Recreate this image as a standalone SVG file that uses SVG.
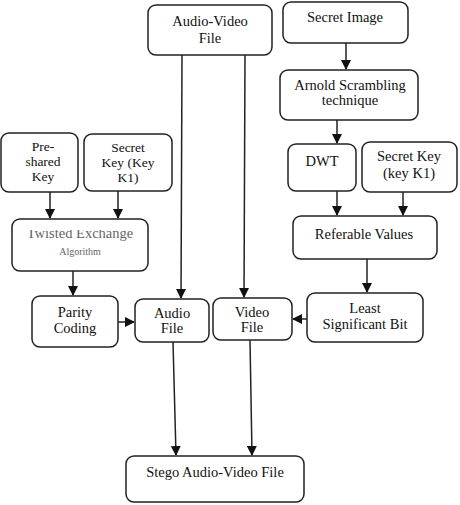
<svg xmlns="http://www.w3.org/2000/svg" width="460" height="505" viewBox="0 0 460 505">
<style>
.box{fill:#fff;stroke:#222;stroke-width:1.5}
.t{font-family:"Liberation Serif","Times New Roman",serif;font-size:14.5px;fill:#111;text-anchor:middle}
.sm{font-size:13.5px}
.ln{stroke:#222;stroke-width:1.5;fill:none}
.faint{fill:#666}
</style>
<defs>
<marker id="ah" markerWidth="10" markerHeight="10" refX="9" refY="5" orient="auto" markerUnits="userSpaceOnUse">
<path d="M0,0 L10,5 L0,10 z" fill="#111"/>
</marker>
<clipPath id="tclip"><rect x="12" y="230" width="136" height="41"/></clipPath>
</defs>
<rect width="460" height="505" fill="#fff"/>
<g id="connectors">
<line class="ln" x1="182" y1="55" x2="181" y2="298" marker-end="url(#ah)"/>
<line class="ln" x1="245" y1="55" x2="244" y2="297" marker-end="url(#ah)"/>
<line class="ln" x1="346" y1="43" x2="346" y2="69" marker-end="url(#ah)"/>
<line class="ln" x1="337" y1="120" x2="337" y2="143" marker-end="url(#ah)"/>
<line class="ln" x1="337" y1="191" x2="337" y2="215" marker-end="url(#ah)"/>
<line class="ln" x1="403" y1="192" x2="403" y2="215" marker-end="url(#ah)"/>
<line class="ln" x1="367" y1="259" x2="367" y2="292" marker-end="url(#ah)"/>
<line class="ln" x1="50" y1="192" x2="50" y2="218" marker-end="url(#ah)"/>
<line class="ln" x1="118" y1="191" x2="118" y2="218" marker-end="url(#ah)"/>
<line class="ln" x1="73" y1="271" x2="73" y2="295" marker-end="url(#ah)"/>
<line class="ln" x1="118" y1="322" x2="134" y2="322" marker-end="url(#ah)"/>
<line class="ln" x1="307" y1="319" x2="293" y2="319" marker-end="url(#ah)"/>
<line class="ln" x1="173" y1="342" x2="176" y2="455" marker-end="url(#ah)"/>
<line class="ln" x1="250" y1="340" x2="252" y2="455" marker-end="url(#ah)"/>
</g>
<g id="audio-video-file">
<rect class="box" x="148" y="5" width="124" height="50" rx="8"/>
<text class="t" x="210" y="26">Audio-Video</text>
<text class="t" x="210" y="43">File</text>
</g>
<g id="secret-image">
<rect class="box" x="283" y="2" width="125" height="41" rx="8"/>
<text class="t" x="345" y="22">Secret Image</text>
</g>
<g id="arnold">
<rect class="box" x="280" y="70" width="138" height="50" rx="8"/>
<text class="t" x="350" y="90">Arnold Scrambling</text>
<text class="t" x="350" y="105">technique</text>
</g>
<g id="pre-shared-key">
<rect class="box" x="1" y="133" width="77" height="59" rx="8"/>
<text class="t sm" x="43" y="151">Pre-</text>
<text class="t sm" x="43" y="166">shared</text>
<text class="t sm" x="43" y="181">Key</text>
</g>
<g id="secret-key-left">
<rect class="box" x="84" y="134" width="88" height="57" rx="8"/>
<text class="t sm" x="128" y="152">Secret</text>
<text class="t sm" x="128" y="167">Key (Key</text>
<text class="t sm" x="128" y="182">K1)</text>
</g>
<g id="dwt">
<rect class="box" x="288" y="144" width="68" height="47" rx="8"/>
<text class="t" x="322" y="166">DWT</text>
</g>
<g id="secret-key-right">
<rect class="box" x="362" y="142" width="95" height="50" rx="8"/>
<text class="t" x="409" y="161">Secret Key</text>
<text class="t" x="409" y="178">(key K1)</text>
</g>
<g id="twisted-exchange">
<rect class="box" x="12" y="219" width="136" height="52" rx="8"/>
<g clip-path="url(#tclip)">
<text class="t faint" x="80" y="238">Twisted Exchange</text>
</g>
<text class="t faint" x="80" y="255" style="font-size:10px">Algorithm</text>
</g>
<g id="referable-values">
<rect class="box" x="293" y="216" width="144" height="43" rx="8"/>
<text class="t" x="364" y="239">Referable Values</text>
</g>
<g id="parity-coding">
<rect class="box" x="32" y="296" width="86" height="51" rx="8"/>
<text class="t" x="75" y="317">Parity</text>
<text class="t" x="75" y="333">Coding</text>
</g>
<g id="audio-file">
<rect class="box" x="135" y="299" width="74" height="43" rx="8"/>
<text class="t" x="172" y="318">Audio</text>
<text class="t" x="172" y="333">File</text>
</g>
<g id="video-file">
<rect class="box" x="213" y="298" width="79" height="42" rx="8"/>
<text class="t" x="252" y="317">Video</text>
<text class="t" x="252" y="332">File</text>
</g>
<g id="lsb">
<rect class="box" x="307" y="293" width="116" height="49" rx="8"/>
<text class="t" x="365" y="313">Least</text>
<text class="t" x="365" y="329">Significant Bit</text>
</g>
<g id="stego">
<rect class="box" x="126" y="456" width="178" height="46" rx="8"/>
<text class="t" x="215" y="477">Stego Audio-Video File</text>
</g>
</svg>
